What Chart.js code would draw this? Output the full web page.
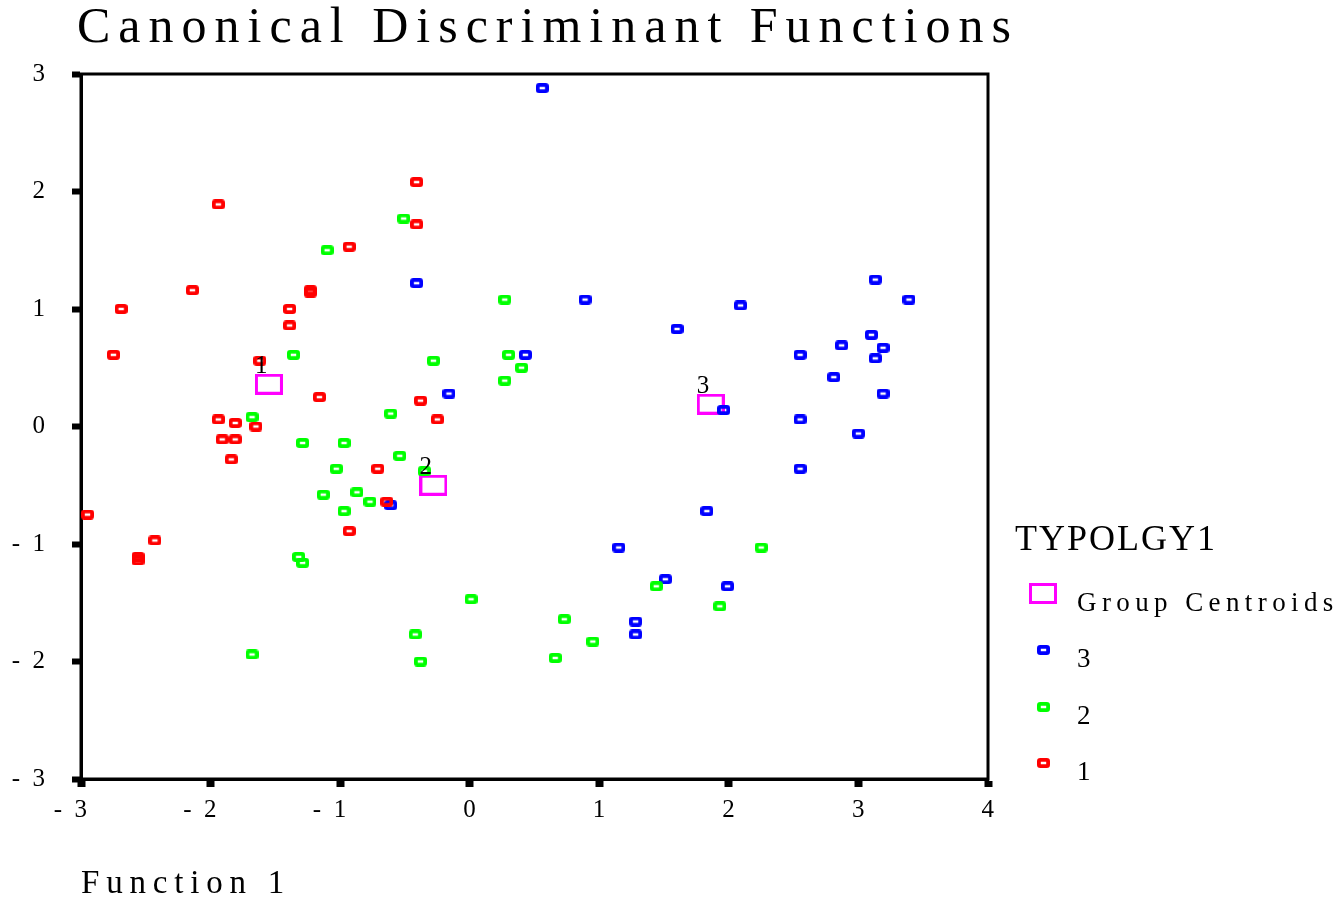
<!DOCTYPE html>
<html>
<head>
<meta charset="utf-8">
<title>Canonical Discriminant Functions</title>
<script src="https://cdn.jsdelivr.net/npm/chart.js@4.4.0/dist/chart.umd.min.js"></script>
<style>
  html, body { margin: 0; padding: 0; background: #fff; }
  #wrap { width: 1343px; height: 898px; position: relative; }
</style>
</head>
<body>
<div id="wrap"><canvas id="canvas"></canvas></div>
<script>
const chartTitle = "Canonical Discriminant Functions";
const xTitle = "Function 1";
const legendTitle = "TYPOLGY1";

const xTicks = [-3, -2, -1, 0, 1, 2, 3, 4];
const yTicks = [-3, -2, -1, 0, 1, 2, 3];

// group 1 (red)
const group1X = [-0.41, -1.94, -0.41, -0.93, -2.14, -1.23, -1.23, -2.69, -1.39, -1.39, -2.75, -1.62, -1.16, -0.38,
    -0.25, -1.94, -1.81, -1.65, -1.91, -1.81, -1.84, -0.71, -2.95, -2.43, -2.56, -2.56, -0.93, -0.64];
const group1Y = [2.08, 1.89, 1.72, 1.53, 1.16, 1.16, 1.14, 1.00, 1.00, 0.86, 0.61, 0.56, 0.25, 0.22,
    0.06, 0.06, 0.03, 0.00, -0.11, -0.11, -0.28, -0.36, -0.75, -0.97, -1.11, -1.14, -0.89, -0.64];

// group 2 (green)
const group2X = [-0.51, -1.10, -1.36, -0.28, -1.68, -0.61, -1.29, -0.97, -0.54, -1.03, -0.35, -1.13, -0.87, -0.77,
    -0.97, -1.32, -1.29, -1.68, 0.01, -0.42, -0.38, 2.25, 1.44, 1.93, 0.73, 0.95, 0.66, 0.27, 0.30, 0.40, 0.27];
const group2Y = [1.77, 1.50, 0.61, 0.56, 0.08, 0.11, -0.14, -0.14, -0.25, -0.36, -0.38, -0.58, -0.56, -0.64,
    -0.72, -1.11, -1.16, -1.94, -1.47, -1.77, -2.00, -1.03, -1.36, -1.53, -1.64, -1.83, -1.97, 1.08, 0.61, 0.50, 0.39];

// group 3 (blue)
const group3X = [0.56, -0.41, 0.89, 0.43, 1.60, -0.16, -0.61, 3.13, 3.39, 2.09, 3.10, 2.87, 3.19, 2.55,
    3.13, 2.81, 3.19, 1.96, 2.55, 3.00, 2.55, 1.83, 1.15, 1.51, 1.99, 1.28, 1.28];
const group3Y = [2.88, 1.22, 1.08, 0.61, 0.83, 0.28, -0.67, 1.25, 1.08, 1.03, 0.78, 0.69, 0.67, 0.61,
    0.58, 0.42, 0.28, 0.14, 0.06, -0.06, -0.36, -0.72, -1.03, -1.30, -1.36, -1.66, -1.77];

const centroidX = [-1.55, -0.28, 1.86];
const centroidY = [0.36, -0.50, 0.19];
const centroidLabels = ["1", "2", "3"];

const SERIF = '"Liberation Serif", "Times New Roman", serif';

function pairs(xs, ys) {
    return xs.map((x, i) => ({ x: x, y: ys[i] }));
}

// small hollow rounded box used as the point marker
function makeMarker(color) {
    const c = document.createElement("canvas");
    c.width = 13;
    c.height = 10;
    const g = c.getContext("2d");
    g.strokeStyle = color;
    g.lineWidth = 3.8;
    g.beginPath();
    if (g.roundRect) {
        g.roundRect(1.9, 1.9, 9.2, 6.2, 1.4);
    } else {
        g.rect(1.9, 1.9, 9.2, 6.2);
    }
    g.stroke();
    return c;
}

function makeCentroid(color) {
    const c = document.createElement("canvas");
    c.width = 28;
    c.height = 21;
    const g = c.getContext("2d");
    g.strokeStyle = color;
    g.lineWidth = 3;
    g.strokeRect(1.5, 1.5, 25, 18);
    return c;
}

function tickText(v) {
    return v < 0 ? "-  " + Math.abs(v) : String(v);
}

function spacedText(ctx, text, x, y, size, spacing) {
    ctx.save();
    ctx.font = size + "px " + SERIF;
    ctx.letterSpacing = spacing + "px";
    ctx.fillStyle = "#000";
    ctx.textAlign = "left";
    ctx.textBaseline = "alphabetic";
    ctx.fillText(text, x, y);
    ctx.restore();
}

const framePlugin = {
    id: "frame",
    beforeDatasetsDraw(chart) {
        const { ctx, chartArea } = chart;
        ctx.save();
        ctx.strokeStyle = "#000";
        ctx.lineWidth = 3;
        ctx.strokeRect(chartArea.left, chartArea.top, chartArea.right - chartArea.left, chartArea.bottom - chartArea.top);
        ctx.restore();
    },
};

const decorPlugin = {
    id: "decor",
    afterDraw(chart) {
        const { ctx, chartArea } = chart;

        spacedText(ctx, chartTitle, 77, 42, 50, 8);
        spacedText(ctx, xTitle, chartArea.left, 893, 33, 6.8);

        // numbers above the group centroids
        const cMeta = chart.getDatasetMeta(0);
        cMeta.data.forEach((pt, i) => {
            spacedText(ctx, centroidLabels[i], pt.x - 14, pt.y - 11, 25, 0);
        });

        // legend
        const lx = chartArea.right;
        const rowGap = 56.5;
        const lastBase = chartArea.bottom + 1;
        const n = chart.data.datasets.length;
        spacedText(ctx, legendTitle, lx + 27, lastBase - (n - 1) * rowGap - 61, 36, 2);
        chart.data.datasets.forEach((ds, i) => {
            const base = lastBase - (n - 1 - i) * rowGap;
            const img = ds.pointStyle;
            ctx.drawImage(img, Math.round(lx + 55 - img.width / 2), Math.round(base - 17 - img.height / 2));
            spacedText(ctx, ds.label, lx + 89, base, 27, ds.label.length > 2 ? 5.4 : 0);
        });
    },
};

const config = {
    type: "scatter",
    data: {
        datasets: [
            {
                label: "Group Centroids",
                data: pairs(centroidX, centroidY),
                pointStyle: makeCentroid("#FF00FF"),
                order: 4,
            },
            {
                label: "3",
                data: pairs(group3X, group3Y),
                pointStyle: makeMarker("#0000FF"),
                order: 3,
            },
            {
                label: "2",
                data: pairs(group2X, group2Y),
                pointStyle: makeMarker("#00FF00"),
                order: 2,
            },
            {
                label: "1",
                data: pairs(group1X, group1Y),
                pointStyle: makeMarker("#FF0000"),
                order: 1,
            },
        ],
    },
    options: {
        responsive: true,
        maintainAspectRatio: false,
        animation: false,
        events: [],
        elements: {
            point: { radius: 5, hoverRadius: 5 },
        },
        layout: {
            padding: { top: 74, right: 355, bottom: 0, left: 0 },
        },
        plugins: {
            legend: { display: false },
            tooltip: { enabled: false },
            title: { display: false },
        },
        scales: {
            x: {
                type: "linear",
                min: -3,
                max: 4,
                afterBuildTicks: (s) => { s.ticks = xTicks.map((v) => ({ value: v })); },
                afterFit: (s) => { s.height = 119; s.paddingLeft = 0; s.paddingRight = 0; },
                ticks: {
                    align: "end",
                    labelOffset: 6,
                    padding: 8,
                    maxRotation: 0,
                    autoSkip: false,
                    color: "#000",
                    font: { family: SERIF, size: 25 },
                    callback: tickText,
                },
                grid: {
                    drawOnChartArea: false,
                    tickLength: 8,
                    tickWidth: 8,
                    tickColor: "#000",
                },
                border: { display: true, color: "#000", width: 3 },
            },
            y: {
                type: "linear",
                min: -3,
                max: 3,
                afterBuildTicks: (s) => { s.ticks = yTicks.map((v) => ({ value: v })); },
                afterFit: (s) => { s.width = 81; s.paddingTop = 0; s.paddingBottom = 0; },
                ticks: {
                    padding: 27,
                    autoSkip: false,
                    color: "#000",
                    font: { family: SERIF, size: 25 },
                    callback: tickText,
                },
                grid: {
                    drawOnChartArea: false,
                    tickLength: 9,
                    tickWidth: 6,
                    tickColor: "#000",
                },
                border: { display: true, color: "#000", width: 3 },
            },
        },
    },
    plugins: [framePlugin, decorPlugin],
};

let chart;

function initGraph() {
    const context = document.getElementById("canvas");
    chart = new Chart(context, config);
}

initGraph();
</script>
</body>
</html>
